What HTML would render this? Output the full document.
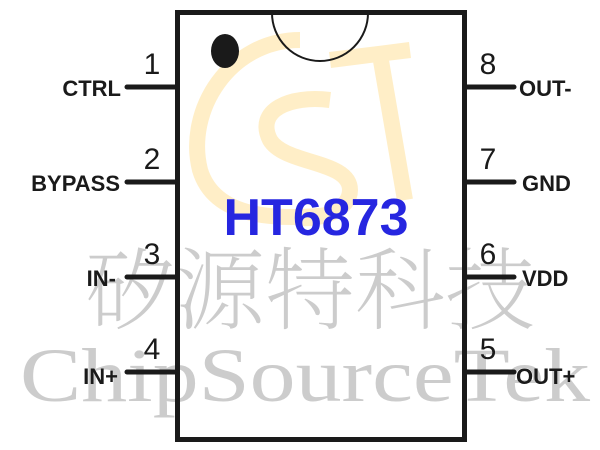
<!DOCTYPE html>
<html><head><style>
body{margin:0;background:#fff;overflow:hidden;width:600px;height:450px}
svg{display:block}
</style></head><body>
<svg width="600" height="450" viewBox="0 0 600 450" xmlns="http://www.w3.org/2000/svg">
<g opacity="0.35" fill="none" stroke="#ffd060" stroke-width="16">
<path d="M300 40 C230 40 185 110 200 170 C215 220 280 220 330 215"/>
<path d="M330 100 C290 95 255 110 270 140 C285 165 350 160 350 190 C350 210 320 220 300 218"/>
<path d="M330 60 L410 50 M380 55 L405 200"/>
</g>
<g fill="#cccccc">
<text x="310" y="322" text-anchor="middle" font-family="'Noto Serif CJK SC', serif" font-weight="200" font-size="90" textLength="450">矽源特科技</text>
<text x="305" y="401" text-anchor="middle" font-family="Liberation Serif, serif" font-size="76" textLength="570" lengthAdjust="spacingAndGlyphs">ChipSourceTek</text>
</g>
<rect x="177.5" y="12.5" width="287" height="427" fill="none" stroke="#1a1a1a" stroke-width="5"/>
<path d="M272 13 A48 48 0 0 0 368 13" fill="none" stroke="#1a1a1a" stroke-width="2"/>
<ellipse cx="225" cy="51" rx="14" ry="17" fill="#1a1a1a"/>
<g stroke="#1a1a1a" stroke-width="5" stroke-linecap="round">
<line x1="127" y1="87" x2="177" y2="87"/>
<line x1="127" y1="182" x2="177" y2="182"/>
<line x1="127" y1="277" x2="177" y2="277"/>
<line x1="127" y1="372" x2="177" y2="372"/>
<line x1="465" y1="87" x2="514" y2="87"/>
<line x1="465" y1="182" x2="514" y2="182"/>
<line x1="465" y1="277" x2="514" y2="277"/>
<line x1="465" y1="372" x2="514" y2="372"/>
</g>
<g font-family="Liberation Sans, sans-serif" font-size="30" fill="#1a1a1a">
<text x="152" y="74" text-anchor="middle">1</text>
<text x="152" y="169" text-anchor="middle">2</text>
<text x="152" y="264" text-anchor="middle">3</text>
<text x="152" y="359" text-anchor="middle">4</text>
<text x="488" y="74" text-anchor="middle">8</text>
<text x="488" y="169" text-anchor="middle">7</text>
<text x="488" y="264" text-anchor="middle">6</text>
<text x="488" y="359" text-anchor="middle">5</text>
</g>
<g font-family="Liberation Sans, sans-serif" font-size="22" font-weight="bold" fill="#1a1a1a">
<text x="121" y="96" text-anchor="end">CTRL</text>
<text x="120" y="191" text-anchor="end">BYPASS</text>
<text x="116" y="286" text-anchor="end">IN-</text>
<text x="118" y="384" text-anchor="end">IN+</text>
<text x="519" y="96">OUT-</text>
<text x="522" y="191">GND</text>
<text x="522" y="286">VDD</text>
<text x="516" y="384">OUT+</text>
</g>
<text x="316" y="235" text-anchor="middle" font-family="Liberation Sans, sans-serif" font-size="52" font-weight="bold" fill="#2626e0">HT6873</text>
</svg>
</body></html>
